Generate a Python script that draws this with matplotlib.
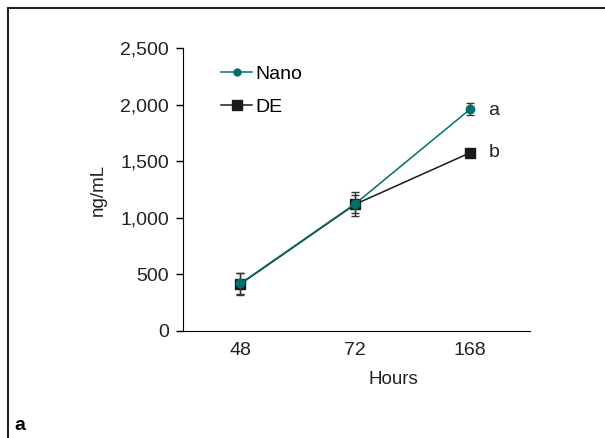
import matplotlib.pyplot as plt
from matplotlib.lines import Line2D

plt.rcParams['font.family'] = ['Liberation Sans', 'DejaVu Sans']

hours = ['48', '72', '168']
nano = [420, 1125, 1960]
nano_err = [95, 105, 50]
de = [415, 1120, 1575]
de_err = [95, 80, 0]
letters = ['a', 'b']

teal = '#00706c'
dark = '#1a1a1a'
txt = '#222222'

fig = plt.figure(figsize=(6.05, 4.38), dpi=100)
ax = fig.add_axes([0.3025, 0.2443, 0.5735, 0.6461])

x = range(len(hours))
ax.errorbar(x, de, yerr=de_err, color=dark, marker='s', markersize=7.5, lw=1.1,
            capsize=3, elinewidth=1, ecolor='#333333', label='DE', zorder=3)
ax.errorbar(x, nano, yerr=nano_err, color=teal, marker='o', markersize=6, lw=1.1,
            capsize=3, elinewidth=1, ecolor='#333333', label='Nano', zorder=4)

ax.text(2.16, nano[2] - 10, letters[0], fontsize=14, va='center', ha='left', color=txt)
ax.text(2.16, de[2] + 5, letters[1], fontsize=14, va='center', ha='left', color=txt)

ax.set_xlim(-0.5, 2.52)
ax.set_ylim(0, 2500)
ax.set_xticks(list(x))
ax.set_xticklabels(hours, fontsize=14, color=txt)
ax.set_yticks([0, 500, 1000, 1500, 2000, 2500])
ax.set_yticklabels(['0', '500', '1,000', '1,500', '2,000', '2,500'], fontsize=14, color=txt)
ax.tick_params(axis='x', length=0, pad=8)
ax.tick_params(axis='y', length=5, width=1, pad=5)
ax.spines['top'].set_visible(False)
ax.spines['right'].set_visible(False)
ax.set_xlabel('Hours', fontsize=13.5, color=txt)
ax.xaxis.set_label_coords(0.605, -0.14)
ax.set_ylabel('ng/mL', fontsize=13.5, color=txt)
ax.yaxis.set_label_coords(-0.22, 0.5)

handles = [Line2D([], [], color=teal, marker='o', markersize=5, lw=1.1),
           Line2D([], [], color=dark, marker='s', markersize=7, lw=1.1)]
ax.legend(handles, ['Nano', 'DE'], loc='upper left', bbox_to_anchor=(0.06, 1.0),
          frameon=False, fontsize=14, handlelength=1.6, handletextpad=0.15,
          labelspacing=0.8)

# figure frame (left and top)
fig.add_artist(Line2D([8 / 605, 8 / 605], [0, 1 - 8 / 438], color='#222222', lw=1.5))
fig.add_artist(Line2D([8 / 605, 1], [1 - 8 / 438, 1 - 8 / 438], color='#222222', lw=1.5))
fig.text(14 / 605, 1 - 425 / 438, 'a', fontsize=14, fontweight='bold', va='center')

fig.savefig('out.png', dpi=100)
